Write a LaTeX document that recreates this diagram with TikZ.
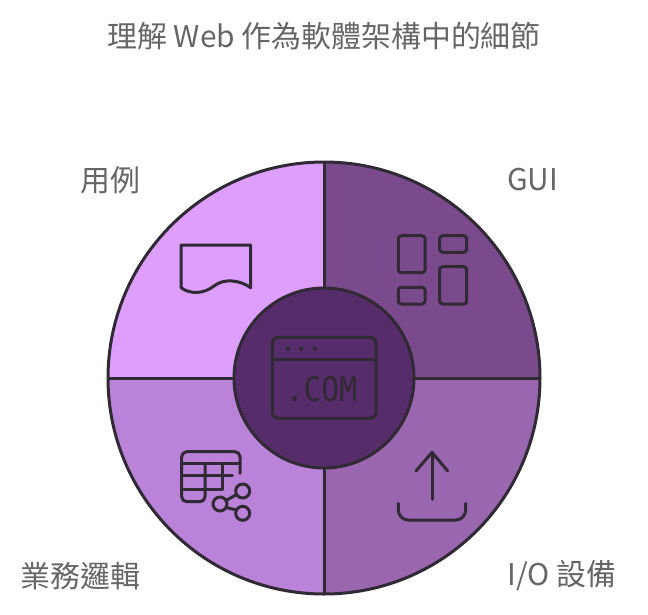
\documentclass[tikz,border=0pt]{standalone}
\usepackage{fontspec}
\setmainfont{Noto Sans CJK TC}
\newfontfamily\comfont{DejaVu Sans Mono}
\usetikzlibrary{positioning}
\definecolor{inkline}{HTML}{2F2A33}
\definecolor{labelgray}{HTML}{666666}
\definecolor{usecase}{HTML}{DD9EFC}
\definecolor{gui}{HTML}{7A4A8C}
\definecolor{device}{HTML}{9A66B0}
\definecolor{logic}{HTML}{BA82D8}
\definecolor{hub}{HTML}{562C6A}
\tikzset{
    label/.style={text=labelgray, inner sep=0pt, font=\fontsize{29.9}{34}\selectfont},
    ring/.style={draw=inkline, line width=3pt},
    icon/.style={draw=inkline, line width=3pt, line cap=round, line join=round},
    boxicon/.style={icon, rounded corners=3pt}
}
\begin{document}
\begin{tikzpicture}[x=1pt, y=-1pt]
    \def \R {216}
    \def \r {90}
    \useasboundingbox (0,0) rectangle (648,614);
    \coordinate (mid) at (324,378);
    % quarters
    \begin{scope}
    \clip (mid) circle (\R);
    \fill[usecase] (mid) rectangle (100,150);
    \fill[gui] (mid) rectangle (550,150);
    \fill[device] (mid) rectangle (550,600);
    \fill[logic] (mid) rectangle (100,600);
    \end{scope}
    \draw[ring] (324,162) -- (324,594);
    \draw[ring] (108,378) -- (540,378);
    \draw[ring] (mid) circle (\R);
    \draw[ring, fill=hub] (mid) circle (\r);
    % use case
    \draw[icon] (181,287.7) -- (181,245) -- (250.7,245) -- (250.7,287.7)
        .. controls (240,280) and (224,278) .. (214,286)
        .. controls (204,294) and (190,294.5) .. (181,287.7);
    % gui
    \draw[boxicon] (398.3,235.7) rectangle (425,272.7);
    \draw[boxicon] (439.7,235.7) rectangle (466.7,252.3);
    \draw[boxicon] (398.3,287.3) rectangle (425,304);
    \draw[boxicon] (439.7,266.7) rectangle (466.7,304);
    % web
    \draw[boxicon, rounded corners=6pt] (272.3,337.3) rectangle (376,418.3);
    \draw[icon] (272.3,359.3) -- (376,359.3);
    \foreach \x in {288,301.3,315}{
    \fill[inkline] (\x,348.7) circle (2.2);}
    \node[text=inkline, inner sep=0pt, xscale=0.87, font=\comfont\fontsize{34}{38}\selectfont] (com) at (321.5,389) {.COM};
    % logic
    \draw[boxicon, rounded corners=5pt] (240,473.3) -- (240,451.7) -- (181.7,451.7) -- (181.7,501.7) -- (205,501.7) -- (205,463.3);
    \draw[icon] (181.7,463.3) -- (240,463.3);
    \draw[icon] (181.7,475.7) -- (232.3,475.7);
    \draw[icon] (181.7,489.3) -- (222.3,489.3);
    \draw[icon] (222.3,463.3) -- (222.3,489.3);
    \draw[icon] (220,504) circle (7);
    \draw[icon] (242.7,491) circle (7);
    \draw[icon] (242.7,513.3) circle (7);
    \draw[icon] (226,500.5) -- (236.7,494.5);
    \draw[icon] (226,507.5) -- (236.7,510);
    % device
    \draw[icon] (432,499.3) -- (432,452.3);
    \draw[icon] (416,471) -- (432,452.3) -- (447.7,471);
    \draw[icon, rounded corners=10pt] (398.3,503.3) -- (398.3,520) -- (465.7,520) -- (465.7,503.3);
    % labels
    \node[label] (title) at (324,36) {理解 Web 作為軟體架構中的細節};
    \node[label, anchor=east] (case) at (140.5,180) {用例};
    \node[label, anchor=west] (guitext) at (507,180) {GUI};
    \node[label, anchor=east] (logictext) at (140.5,576) {業務邏輯};
    \node[label, anchor=west] (iotext) at (507.5,576) {I/O 設備};
\end{tikzpicture}
\end{document}
